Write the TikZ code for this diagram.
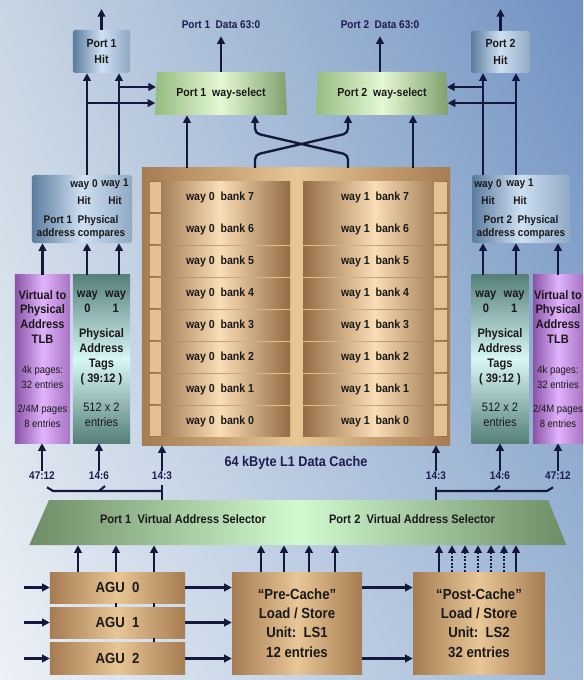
\documentclass[tikz,border=0pt]{standalone}
\usepackage{fontspec}
\setmainfont{Liberation Sans}[FakeStretch=0.9]
\usetikzlibrary{arrows.meta,calc,shapes.geometric,shadings}

\definecolor{bgUL}{RGB}{200,213,227}
\definecolor{bgUR}{RGB}{112,146,194}
\definecolor{bgLL}{RGB}{236,241,246}
\definecolor{bgLR}{RGB}{160,184,214}
\definecolor{wire}{RGB}{20,24,60}
\definecolor{navy}{RGB}{28,28,80}
\definecolor{steelD}{RGB}{92,124,158}
\definecolor{steelL}{RGB}{206,224,242}
\definecolor{tanD}{RGB}{166,124,82}
\definecolor{tanL}{RGB}{232,198,150}
\definecolor{bankD}{RGB}{148,108,68}
\definecolor{bankL}{RGB}{250,222,182}
\definecolor{capC}{RGB}{228,192,148}
\definecolor{grnD}{RGB}{150,188,128}
\definecolor{grnL}{RGB}{228,248,212}
\definecolor{selD}{RGB}{110,140,102}
\definecolor{selL}{RGB}{210,250,208}
\definecolor{purD}{RGB}{138,84,166}
\definecolor{purL}{RGB}{224,178,252}
\definecolor{tealD}{RGB}{86,128,122}
\definecolor{tealL}{RGB}{216,246,246}

\begin{document}
\begin{tikzpicture}[
    x=0.03cm,
    y=-0.03cm,
    every node/.style={inner sep=0pt, text=black!90,
        font=\bfseries\fontsize{10}{12}\selectfont},
    steel/.style={rounded corners=1.5pt, left color=steelD,
        right color=steelD!55!steelL, middle color=steelL},
    tlb/.style={align=center, minimum height=5.04cm, left color=purD,
        right color=purD!65!purL, middle color=purL,
        font=\bfseries\fontsize{10.5}{12.7}\selectfont},
    tags/.style={align=center, minimum height=5.04cm, top color=tealD,
        bottom color=tealD, middle color=tealL,
        font=\bfseries\fontsize{10.5}{12.7}\selectfont},
    waysel/.style={trapezium, trapezium left angle=80,
        trapezium right angle=80, trapezium stretches body=true,
        minimum width=3.96cm, minimum height=1.29cm,
        left color=grnD, right color=grnD!85!black, middle color=grnL},
    tanbox/.style={align=center, left color=tanD, right color=tanD,
        middle color=tanL},
    bank/.style={minimum height=0.9cm, left color=bankD,
        right color=bankD, middle color=bankL},
    bankzero/.style={bank, minimum width=4.2cm,
        path picture={\fill[capC] (path picture bounding box.north west)
        rectangle ([xshift=9pt]path picture bounding box.south west);}},
    bankone/.style={bank, minimum width=4.32cm,
        path picture={\fill[capC] (path picture bounding box.north east)
        rectangle ([xshift=-11pt]path picture bounding box.south east);}},
    cmptext/.style={align=center, font=\bfseries\fontsize{9.5}{11}\selectfont},
    bits/.style={text=navy, inner sep=1pt,
        font=\bfseries\fontsize{9.5}{11}\selectfont},
    big/.style={font=\bfseries\fontsize{12.5}{16.6}\selectfont},
    arr/.style={-{Triangle[length=2.3mm,width=2.3mm]}, draw=wire,
        line width=2pt},
    dotarr/.style={arr, line width=1.6pt, dash pattern=on 1.5pt off 1.5pt},
    bus/.style={draw=wire, line width=1.8pt}
]
    \useasboundingbox (0,0) rectangle (583,680);
    \shade[upper left=bgUL, upper right=bgUR, lower left=bgLL,
        lower right=bgLR] (0,0) rectangle (583,680);

    % wire columns
    \coordinate (topY) at (0,9);
    \coordinate (w0A) at (87,0);
    \coordinate (w1A) at (119,0);
    \coordinate (w0B) at (483,0);
    \coordinate (w1B) at (516,0);
    \coordinate (cA) at (187,0);
    \coordinate (cB) at (255,0);
    \coordinate (cC) at (348,0);
    \coordinate (cD) at (413,0);
    \coordinate (a0) at (78,0);
    \coordinate (a1) at (116,0);
    \coordinate (a2) at (154,0);
    \coordinate (src) at (24,0);

    % top row
    \node[steel, align=center, minimum width=1.71cm, minimum height=1.29cm]
        (hitA) at (101.5,51.5) {Port 1\\[2pt]Hit};
    \node[steel, align=center, minimum width=1.77cm, minimum height=1.26cm]
        (hitB) at (500.5,52) {Port 2\\[2pt]Hit};
    \node[bits] (dataA) at (221,25) {Port 1~~Data 63:0};
    \node[bits] (dataB) at (380,25) {Port 2~~Data 63:0};
    \node[waysel] (wsA) at (221,93.5) {Port 1~~way-select};
    \node[waysel] (wsB) at (382,93.5) {Port 2~~way-select};

    % physical address compares
    \node[steel, minimum width=3cm, minimum height=2.04cm] (cmpA) at (82,209) {};
    \node[cmptext] (hw0A) at (84,192) {way 0\\[4pt]Hit};
    \node[cmptext] (hw1A) at (115,192) {way 1\\[4pt]Hit};
    \node[cmptext] (physA) at (81,227) {Port 1~~Physical\\address compares};
    \node[steel, minimum width=2.94cm, minimum height=2.04cm] (cmpB) at (521,209) {};
    \node[cmptext] (hw0B) at (488,192) {way 0\\[4pt]Hit};
    \node[cmptext] (hw1B) at (520,192) {way 1\\[4pt]Hit};
    \node[cmptext] (physB) at (521,227) {Port 2~~Physical\\address compares};

    % TLBs and tags
    \node[tlb, minimum width=1.65cm] (tlbA) at (42.5,359)
        {Virtual to\\Physical\\Address\\TLB\\[13pt]{\mdseries\fontsize{9}{12}\selectfont 4k pages:}\\
        {\mdseries\fontsize{9}{12}\selectfont 32 entries}\\[8pt]{\mdseries\fontsize{9}{12}\selectfont 2/4M pages}\\
        {\mdseries\fontsize{9}{12}\selectfont 8 entries}};
    \node[tags, minimum width=1.71cm] (tagA) at (101.5,359)
        {\makebox[2.3em]{way}\makebox[2.3em]{way}\\
        \makebox[2.3em]{0}\makebox[2.3em]{1}\\[8.5pt]Physical\\Address\\Tags\\
        ( 39:12 )\\[12.7pt]{\mdseries 512 x 2}\\{\mdseries entries}};
    \node[tags, minimum width=1.68cm] (tagB) at (500,359)
        {\makebox[2.3em]{way}\makebox[2.3em]{way}\\
        \makebox[2.3em]{0}\makebox[2.3em]{1}\\[8.5pt]Physical\\Address\\Tags\\
        ( 39:12 )\\[12.7pt]{\mdseries 512 x 2}\\{\mdseries entries}};
    \node[tlb, minimum width=1.5cm] (tlbB) at (558,359)
        {Virtual to\\Physical\\Address\\TLB\\[13pt]{\mdseries\fontsize{9}{12}\selectfont 4k pages:}\\
        {\mdseries\fontsize{9}{12}\selectfont 32 entries}\\[8pt]{\mdseries\fontsize{9}{12}\selectfont 2/4M pages}\\
        {\mdseries\fontsize{9}{12}\selectfont 8 entries}};

    % data cache
    \node[tanbox, minimum width=9.24cm, minimum height=8.31cm] (cache) at (296,306.5) {};
    \node[bankzero] (w0b7) at (220,197) {way 0~~bank 7};
    \node[bankzero] (w0b6) at (220,229) {way 0~~bank 6};
    \node[bankzero] (w0b5) at (220,261) {way 0~~bank 5};
    \node[bankzero] (w0b4) at (220,293) {way 0~~bank 4};
    \node[bankzero] (w0b3) at (220,325) {way 0~~bank 3};
    \node[bankzero] (w0b2) at (220,357) {way 0~~bank 2};
    \node[bankzero] (w0b1) at (220,389) {way 0~~bank 1};
    \node[bankzero] (w0b0) at (220,421) {way 0~~bank 0};
    \node[bankone] (w1b7) at (375,197) {way 1~~bank 7};
    \node[bankone] (w1b6) at (375,229) {way 1~~bank 6};
    \node[bankone] (w1b5) at (375,261) {way 1~~bank 5};
    \node[bankone] (w1b4) at (375,293) {way 1~~bank 4};
    \node[bankone] (w1b3) at (375,325) {way 1~~bank 3};
    \node[bankone] (w1b2) at (375,357) {way 1~~bank 2};
    \node[bankone] (w1b1) at (375,389) {way 1~~bank 1};
    \node[bankone] (w1b0) at (375,421) {way 1~~bank 0};
    \node[text=navy, font=\bfseries\fontsize{12}{14}\selectfont] (cacheLbl)
        at (296,463) {64 kByte L1 Data Cache};

    % address bit labels
    \node[bits] (l4712A) at (42,476) {47:12};
    \node[bits] (l146A) at (99,476) {14:6};
    \node[bits] (l143A) at (162,476) {14:3};
    \node[bits] (l143B) at (436,476) {14:3};
    \node[bits] (l146B) at (500,476) {14:6};
    \node[bits] (l4712B) at (558,476) {47:12};
    \coordinate (busA) at (162,491);
    \coordinate (busB) at (436,491);

    % virtual address selector
    \node[trapezium, trapezium left angle=47, trapezium right angle=49,
        trapezium stretches body=true, minimum width=16.11cm, minimum height=1.35cm,
        inner sep=3pt, left color=selD, right color=selD, middle color=selL]
        (sel) at (298.5,522.5) {\strut};
    \node[font=\bfseries\fontsize{10.5}{12}\selectfont] (selA) at (183,519)
        {Port 1~~Virtual Address Selector};
    \node[font=\bfseries\fontsize{10.5}{12}\selectfont] (selB) at (412,519)
        {Port 2~~Virtual Address Selector};

    % AGUs and load/store units
    \node[tanbox, big, minimum width=4.05cm, minimum height=0.93cm] (agu0)
        at (117.5,587.5) {AGU~~0};
    \node[tanbox, big, minimum width=4.05cm, minimum height=0.93cm] (agu1)
        at (117.5,622.5) {AGU~~1};
    \node[tanbox, big, minimum width=4.05cm, minimum height=0.96cm] (agu2)
        at (117.5,658.5) {AGU~~2};
    \node[tanbox, big, minimum width=3.9cm, minimum height=3.06cm] (pre)
        at (297,623) {“Pre-Cache”\\Load / Store\\Unit:~~LS1\\12 entries};
    \node[tanbox, big, minimum width=3.96cm, minimum height=3.06cm] (post)
        at (479,623) {“Post-Cache”\\Load / Store\\Unit:~~LS2\\32 entries};

    % outputs at the top
    \draw[arr] (hitA.north) -- (hitA.north |- topY);
    \draw[arr] (hitB.north) -- (hitB.north |- topY);
    \draw[arr, shorten >=5pt] (wsA.north -| dataA) -- (dataA.south);
    \draw[arr, shorten >=5pt] (wsB.north -| dataB) -- (dataB.south);

    % hit lines
    \draw[arr] (cmpA.north -| w0A) -- (hitA.south -| w0A);
    \draw[arr] (cmpA.north -| w1A) -- (hitA.south -| w1A);
    \draw[arr] (cmpB.north -| w0B) -- (hitB.south -| w0B);
    \draw[arr] (cmpB.north -| w1B) -- (hitB.south -| w1B);
    \coordinate (eA1) at ($(wsA.bottom left corner)!0.65!(wsA.top left corner)$);
    \coordinate (eA0) at ($(wsA.bottom left corner)!0.28!(wsA.top left corner)$);
    \coordinate (eB0) at ($(wsB.bottom right corner)!0.65!(wsB.top right corner)$);
    \coordinate (eB1) at ($(wsB.bottom right corner)!0.28!(wsB.top right corner)$);
    \draw[arr] (eA1 -| w1A) -- (eA1);
    \draw[arr] (eA0 -| w0A) -- (eA0);
    \draw[arr] (eB0 -| w0B) -- (eB0);
    \draw[arr] (eB1 -| w1B) -- (eB1);

    % cache to way-select
    \draw[arr] (cache.north -| cA) -- (wsA.south -| cA);
    \draw[arr, rounded corners=4pt] (cache.north -| cB) -- ++(0,-13)
        -- ($(wsB.south -| cC)+(0,18)$) -- (wsB.south -| cC);
    \draw[arr, rounded corners=4pt] (cache.north -| cC) -- ++(0,-13)
        -- ($(wsA.south -| cB)+(0,18)$) -- (wsA.south -| cB);
    \draw[arr] (cache.north -| cD) -- (wsB.south -| cD);

    % into the compares
    \draw[arr] (tlbA.north) -- (cmpA.south -| tlbA.north);
    \draw[arr] (tagA.north -| w0A) -- (cmpA.south -| w0A);
    \draw[arr] (tagA.north -| w1A) -- (cmpA.south -| w1A);
    \draw[arr] (tagB.north -| w0B) -- (cmpB.south -| w0B);
    \draw[arr] (tagB.north -| w1B) -- (cmpB.south -| w1B);
    \draw[arr] (tlbB.north) -- (cmpB.south -| tlbB.north);

    % address bits
    \draw[arr] (l4712A.north) -- (tlbA.south -| l4712A.north);
    \draw[arr] (l146A.north) -- (tagA.south -| l146A.north);
    \draw[arr] (l143A.north) -- (cache.south -| l143A.north);
    \draw[arr] (l143B.north) -- (cache.south -| l143B.north);
    \draw[arr] (l146B.north) -- (tagB.south -| l146B.north);
    \draw[arr] (l4712B.north) -- (tlbB.south -| l4712B.north);
    \draw[bus] ($(l4712A.south)+(5,6)$) -- ($(l4712A.south |- busA)+(11,0)$) -- (busA);
    \draw[bus] (l146A.south |- busA) -- ++(6,-5);
    \draw[bus] ($(busA)+(0,-6)$) -- (sel.north -| busA);
    \draw[bus] (busB) -- ($(l4712B.south |- busB)+(-11,0)$) -- ($(l4712B.south)+(-5,6)$);
    \draw[bus] ($(l146B.south |- busB)+(-6,0)$) -- ++(6,-5);
    \draw[bus] ($(busB)+(0,-4)$) -- (sel.north -| busB);

    % AGUs into the selector
    \draw[arr] (agu0.north -| a0) -- (sel.south -| a0);
    \draw[arr] (agu0.north -| a1) -- (sel.south -| a1);
    \draw[arr] (agu0.north -| a2) -- (sel.south -| a2);
    \draw[bus] (agu1.north -| a1) -- (agu0.south -| a1);
    \draw[bus] (agu1.north -| a2) -- (agu0.south -| a2);
    \draw[bus] (agu2.north -| a2) -- (agu1.south -| a2);

    % load/store units into the selector
    \draw[arr] ($(pre.north)+(-36,0)$) -- ($(sel.south -| pre.north)+(-36,0)$);
    \draw[arr] ($(pre.north)+(-13,0)$) -- ($(sel.south -| pre.north)+(-13,0)$);
    \draw[arr] ($(pre.north)+(12,0)$) -- ($(sel.south -| pre.north)+(12,0)$);
    \draw[arr] ($(pre.north)+(38,0)$) -- ($(sel.south -| pre.north)+(38,0)$);
    \draw[arr] ($(post.north)+(-40,0)$) -- ($(sel.south -| post.north)+(-40,0)$);
    \draw[dotarr] ($(post.north)+(-27,0)$) -- ($(sel.south -| post.north)+(-27,0)$);
    \draw[dotarr] ($(post.north)+(-14,0)$) -- ($(sel.south -| post.north)+(-14,0)$);
    \draw[dotarr] ($(post.north)+(-1,0)$) -- ($(sel.south -| post.north)+(-1,0)$);
    \draw[dotarr] ($(post.north)+(12,0)$) -- ($(sel.south -| post.north)+(12,0)$);
    \draw[dotarr] ($(post.north)+(25,0)$) -- ($(sel.south -| post.north)+(25,0)$);
    \draw[arr] ($(post.north)+(37,0)$) -- ($(sel.south -| post.north)+(37,0)$);

    % bottom data path
    \draw[arr] (src |- agu0.west) -- (agu0.west);
    \draw[arr] (src |- agu1.west) -- (agu1.west);
    \draw[arr] (src |- agu2.west) -- (agu2.west);
    \draw[arr] (agu0.east) -- (agu0.east -| pre.west);
    \draw[arr] (agu1.east) -- (agu1.east -| pre.west);
    \draw[arr] (agu2.east) -- (agu2.east -| pre.west);
    \draw[arr] (agu0.east -| pre.east) -- (agu0.east -| post.west);
    \draw[arr] (agu2.east -| pre.east) -- (agu2.east -| post.west);
\end{tikzpicture}
\end{document}
